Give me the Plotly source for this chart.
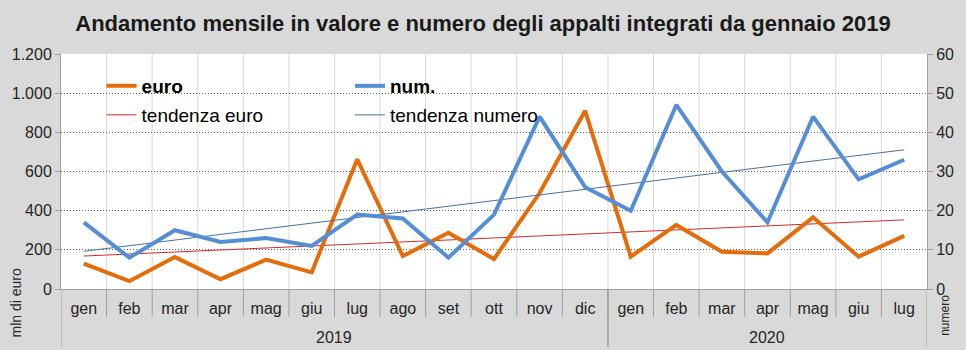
import numpy as np
import plotly.graph_objects as go

months = ["gen", "feb", "mar", "apr", "mag", "giu", "lug", "ago", "set", "ott", "nov", "dic",
          "gen", "feb", "mar", "apr", "mag", "giu", "lug"]
years = ["2019", "2020"]
year_spans = [(0, 11), (12, 18)]
euro = [130, 40, 163, 50, 150, 85, 662, 168, 287, 153, 490, 910, 165, 327, 190, 182, 366, 165, 271]
num = [17, 8, 15, 12, 13, 11, 19, 18, 8, 19, 44, 26, 20, 47, 30, 17, 44, 28, 33]

x = np.arange(len(months))
ce = np.polyfit(x, euro, 1)
cn = np.polyfit(x, num, 1)
trend_euro = np.polyval(ce, x)
trend_num = np.polyval(cn, x)

ORANGE = "#E46C0A"
BLUE = "#558ED5"
RED = "#D42A2A"
DBLUE = "#4A6FA5"
FONT = "Liberation Sans, Arial, sans-serif"

fig = go.Figure()
fig.add_trace(go.Scatter(x=x, y=trend_euro, mode="lines", name="tendenza euro",
                         line=dict(color=RED, width=1), legend="legend3", yaxis="y"))
fig.add_trace(go.Scatter(x=x, y=trend_num, mode="lines", name="tendenza numero",
                         line=dict(color=DBLUE, width=1), legend="legend4", yaxis="y2"))
fig.add_trace(go.Scatter(x=x, y=euro, mode="lines", name="<b>euro</b>",
                         line=dict(color=ORANGE, width=4), legend="legend", yaxis="y"))
fig.add_trace(go.Scatter(x=x, y=num, mode="lines", name="<b>num.</b>",
                         line=dict(color=BLUE, width=4), legend="legend2", yaxis="y2"))

W, H = 966, 350
L, R, T, B = 57, 34, 54, 61
pw, ph = W - L - R, H - T - B

def px_x(p):
    return (p - L) / pw

def px_y(p):
    return (H - B - p) / ph

shapes = []
# light vertical gridlines between categories
for k in range(1, len(months)):
    shapes.append(dict(type="line", xref="x", yref="paper", x0=k - 0.5, x1=k - 0.5, y0=0, y1=1,
                       line=dict(color="#D9D9D9", width=1), layer="below"))
# separators below axis
for k in range(1, len(months)):
    shapes.append(dict(type="line", xref="x", yref="paper", x0=k - 0.5, x1=k - 0.5, y0=0,
                       y1=px_y(317), line=dict(color="#A0A0A0", width=1)))
for (a, b) in year_spans:
    for xx in (a - 0.5, b + 0.5):
        shapes.append(dict(type="line", xref="x", yref="paper", x0=xx, x1=xx, y0=0,
                           y1=px_y(347), line=dict(color="#A0A0A0", width=1)))

annotations = []
for yr, (a, b) in zip(years, year_spans):
    annotations.append(dict(text=yr, xref="x", yref="paper", x=(a + b) / 2, y=px_y(337),
                            showarrow=False, font=dict(size=16, color="#262626", family=FONT),
                            xanchor="center", yanchor="middle"))
annotations.append(dict(text="mln di euro", xref="paper", yref="paper", x=px_x(12), y=px_y(303),
                        textangle=-90, showarrow=False, font=dict(size=14, color="#262626", family=FONT),
                        xanchor="center", yanchor="middle"))
annotations.append(dict(text="numero", xref="paper", yref="paper", x=px_x(950), y=px_y(315),
                        textangle=-90, showarrow=False, font=dict(size=12, color="#262626", family=FONT),
                        xanchor="center", yanchor="middle"))

legfont = dict(size=19, color="#000000", family=FONT)

def leg(xp, yp):
    return dict(x=px_x(xp), y=px_y(yp), xanchor="left", yanchor="middle",
                bgcolor="rgba(0,0,0,0)", font=legfont, itemwidth=30)

fig.update_layout(
    width=W, height=H,
    margin=dict(l=L, r=R, t=T, b=B, pad=0),
    paper_bgcolor="#D9D9D9", plot_bgcolor="#FFFFFF",
    separators=",.",
    title=dict(text="<b>Andamento mensile in valore e numero degli appalti integrati da gennaio 2019</b>",
               x=0.5, xanchor="center", y=1 - 23 / H, yanchor="middle", yref="container",
               font=dict(size=22, color="#1A1A1A", family=FONT)),
    xaxis=dict(range=[-0.5, len(months) - 0.5], tickvals=list(x), ticktext=months,
               showgrid=False, zeroline=False, showline=True, linecolor="#A0A0A0", linewidth=1,
               ticks="", ticklabelstandoff=5,
               tickfont=dict(size=16, color="#262626", family=FONT), fixedrange=True),
    yaxis=dict(range=[0, 1200], dtick=200, tick0=0, showgrid=True, gridcolor="#595959",
               griddash="1px,2px", gridwidth=1, zeroline=False, showline=True, linecolor="#A0A0A0",
               ticks="outside", ticklen=5, tickcolor="#A0A0A0", separatethousands=True,
               tickfont=dict(size=16, color="#262626", family=FONT)),
    yaxis2=dict(range=[0, 60], dtick=10, tick0=0, overlaying="y", side="right", showgrid=False,
                zeroline=False, showline=True, linecolor="#A0A0A0", ticks="outside", ticklen=5,
                tickcolor="#A0A0A0", tickfont=dict(size=16, color="#262626", family=FONT)),
    legend=leg(98, 86),
    legend2=leg(349, 86),
    legend3=leg(98, 115),
    legend4=leg(349, 115),
    shapes=shapes,
    annotations=annotations,
    showlegend=True,
)

fig.write_html("out.html")
